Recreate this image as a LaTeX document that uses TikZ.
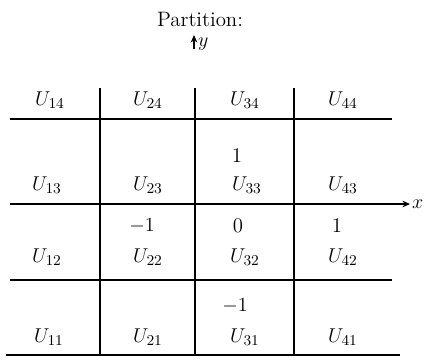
\documentclass[tikz,border=0pt]{standalone}
\usepackage{amsmath,amssymb}
\usepackage{tikz}
\usetikzlibrary{positioning,arrows.meta}
\tikzset{
  gridline/.style={line width=0.8pt},
  axisarrow/.style={line width=0.8pt, -{Stealth[length=1.6mm,width=1.4mm]}},
  cellname/.style={font=\fontsize{12.5}{14}\selectfont, inner sep=1pt},
  ticknum/.style={font=\fontsize{12.5}{14}\selectfont, inner sep=1pt},
}

\begin{document}
\begin{tikzpicture}[x=0.6pt, y=-0.6pt]
  \useasboundingbox (0,0) rectangle (428,363);
  \node[font=\fontsize{12.5}{14}\selectfont, inner sep=1pt] (title) at (200,19) {Partition:};
  % y axis (only its tip is shown)
  \coordinate (ybase) at (194,49);
  \coordinate (ytip) at (194,35);
  \draw[axisarrow] (ybase) -- (ytip);
  \node[cellname, anchor=west] (ylab) at (196,44) {$y$};
  % grid
  \draw[gridline] (10,119) -- (392,119);
  \draw[gridline] (10,280) -- (392,280);
  \draw[gridline] (6,355) -- (400,355);
  \foreach \gx in {100,195,294}
    \draw[gridline] (\gx,88) -- (\gx,355);
  % x axis
  \coordinate (xstart) at (10,204);
  \coordinate (xend) at (410,204);
  \draw[axisarrow] (xstart) -- (xend);
  \node[cellname, anchor=west] (xlab) at (xend) {$x$};
  % cells
  \node[cellname] (u14) at (50,100) {$U_{14}$};
  \node[cellname] (u24) at (148,100) {$U_{24}$};
  \node[cellname] (u34) at (245,100) {$U_{34}$};
  \node[cellname] (u44) at (343,100) {$U_{44}$};
  \node[cellname] (u13) at (47,185) {$U_{13}$};
  \node[cellname] (u23) at (148,185) {$U_{23}$};
  \node[cellname] (u33) at (247,185) {$U_{33}$};
  \node[cellname] (u43) at (343,185) {$U_{43}$};
  \node[cellname] (u12) at (47,257) {$U_{12}$};
  \node[cellname] (u22) at (148,257) {$U_{22}$};
  \node[cellname] (u32) at (245,257) {$U_{32}$};
  \node[cellname] (u42) at (343,257) {$U_{42}$};
  \node[cellname] (u11) at (49,337) {$U_{11}$};
  \node[cellname] (u21) at (148,337) {$U_{21}$};
  \node[cellname] (u31) at (245,337) {$U_{31}$};
  \node[cellname] (u41) at (343,337) {$U_{41}$};
  % tick values
  \node[ticknum] (ty1) at (237,156) {1};
  \node[ticknum] (txm) at (142,226) {$-1$};
  \node[ticknum] (tx0) at (238,226) {0};
  \node[ticknum] (tx1) at (337,226) {1};
  \node[ticknum] (tym) at (235,306) {$-1$};
\end{tikzpicture}
\end{document}
